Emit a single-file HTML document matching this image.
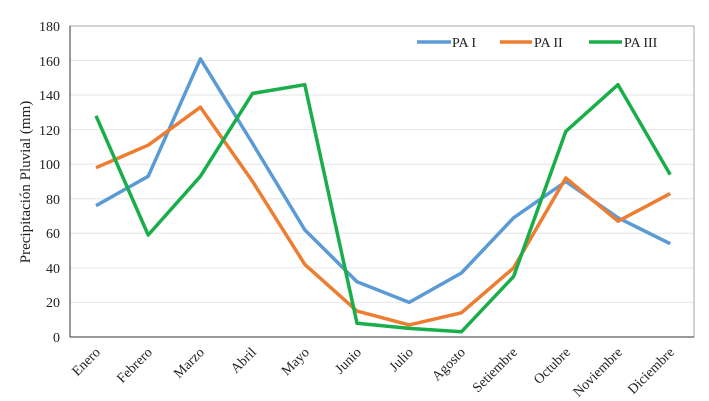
<!DOCTYPE html>
<html><head><meta charset="utf-8"><style>body{margin:0;background:#fff}svg{display:block}</style></head>
<body>
<svg width="709" height="401" xmlns="http://www.w3.org/2000/svg" font-family="Liberation Serif, serif" font-size="14" fill="#222">
<g stroke="#e6e6e6" stroke-width="1">
<line x1="70" x2="694" y1="60.5" y2="60.5"/><line x1="70" x2="694" y1="95" y2="95"/><line x1="70" x2="694" y1="129.6" y2="129.6"/><line x1="70" x2="694" y1="164.2" y2="164.2"/><line x1="70" x2="694" y1="198.7" y2="198.7"/><line x1="70" x2="694" y1="233.3" y2="233.3"/><line x1="70" x2="694" y1="267.9" y2="267.9"/><line x1="70" x2="694" y1="302.4" y2="302.4"/>
</g>
<rect x="70" y="26" width="624" height="311" fill="none" stroke="#aaa"/>
<line x1="70" y1="26" x2="70" y2="337" stroke="#333"/><line x1="70" y1="337" x2="694" y2="337" stroke="#333"/>
<g text-anchor="end">
<text x="60" y="342">0</text><text x="60" y="307">20</text><text x="60" y="273">40</text><text x="60" y="238">60</text><text x="60" y="204">80</text><text x="60" y="169">100</text><text x="60" y="135">120</text><text x="60" y="100">140</text><text x="60" y="66">160</text><text x="60" y="31">180</text>
</g>
<text transform="translate(30,182) rotate(-90)" text-anchor="middle" font-size="15">Precipitación Pluvial (mm)</text>
<g text-anchor="end" font-size="14">
<text transform="translate(101,353) rotate(-45)">Enero</text>
<text transform="translate(153,353) rotate(-45)">Febrero</text>
<text transform="translate(205,353) rotate(-45)">Marzo</text>
<text transform="translate(257,353) rotate(-45)">Abril</text>
<text transform="translate(310,353) rotate(-45)">Mayo</text>
<text transform="translate(362,353) rotate(-45)">Junio</text>
<text transform="translate(414,353) rotate(-45)">Julio</text>
<text transform="translate(466,353) rotate(-45)">Agosto</text>
<text transform="translate(518,353) rotate(-45)">Setiembre</text>
<text transform="translate(571,353) rotate(-45)">Octubre</text>
<text transform="translate(623,353) rotate(-45)">Noviembre</text>
<text transform="translate(675,353) rotate(-45)">Diciembre</text>
</g>
<g fill="none" stroke-width="3.5" stroke-linejoin="round">
<polyline stroke="#5b9bd5" points="96,205.7 148.2,176.3 200.4,58.8 252.6,143.5 304.8,229.9 357,281.7 409.2,302.4 461.4,273 513.6,217.8 565.8,181.5 618,217.8 670.2,243.7"/>
<polyline stroke="#ed7d31" points="96,167.7 148.2,145.2 200.4,107.2 252.6,181.5 304.8,264.4 357,311.1 409.2,324.9 461.4,312.8 513.6,267.9 565.8,178 618,221.2 670.2,193.6"/>
<polyline stroke="#1aae4a" points="96,115.8 148.2,235 200.4,176.3 252.6,93.4 304.8,84.7 357,323.2 409.2,328.4 461.4,331.8 513.6,276.5 565.8,131.4 618,84.7 670.2,174.6"/>
</g>
<g stroke-width="3.5">
<line x1="417" x2="451" y1="42" y2="42" stroke="#5b9bd5"/>
<line x1="500" x2="532" y1="42" y2="42" stroke="#ed7d31"/>
<line x1="589" x2="622" y1="42" y2="42" stroke="#1aae4a"/>
</g>
<text x="452" y="47">PA I</text><text x="534" y="47">PA II</text><text x="624" y="47">PA III</text>
</svg>
</body></html>
